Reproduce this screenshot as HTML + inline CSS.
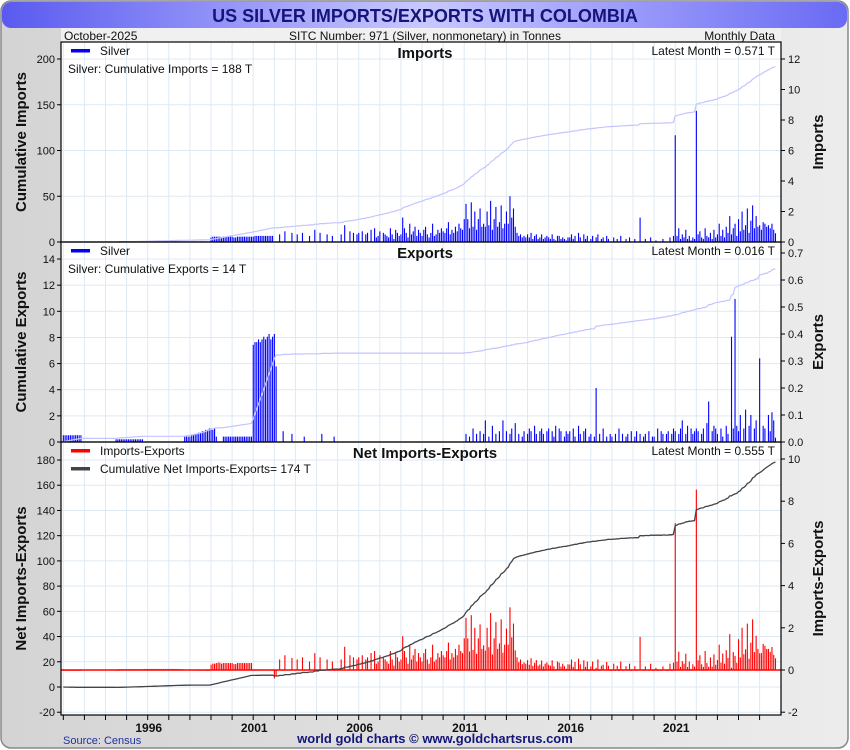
<!DOCTYPE html>
<html><head><meta charset="utf-8">
<style>
body{margin:0;background:#fff;font-family:"Liberation Sans",sans-serif}
svg{display:block}
text{font-family:"Liberation Sans",sans-serif}
</style></head>
<body>
<svg id="chart" width="850" height="750" viewBox="0 0 850 750">
<defs>
<linearGradient id="hdr" x1="0" x2="1" y1="0" y2="0"><stop offset="0" stop-color="#5a5af0"/><stop offset="0.5" stop-color="#c8c8ff"/><stop offset="1" stop-color="#6a6af4"/></linearGradient>
<linearGradient id="side" x1="0" x2="1"><stop offset="0" stop-color="#d4d4d4"/><stop offset="1" stop-color="#ececec"/></linearGradient>
</defs>
<rect x="1" y="1" width="847" height="747" rx="10" fill="url(#side)" stroke="#888" stroke-width="1.5"/>
<rect x="2" y="2" width="845" height="26" rx="9" fill="url(#hdr)"/>
<text x="425" y="22" text-anchor="middle" font-size="18" font-weight="bold" fill="#14147a">US SILVER IMPORTS/EXPORTS WITH COLOMBIA</text>
<rect x="61" y="28" width="720" height="14" fill="#f0f0f0"/>
<text x="64" y="40" font-size="12" fill="#111">October-2025</text>
<text x="425" y="40" font-size="12" text-anchor="middle" fill="#111">SITC Number: 971 (Silver, nonmonetary) in Tonnes</text>
<text x="775" y="40" font-size="12" text-anchor="end" fill="#111">Monthly Data</text>
<rect x="61" y="42" width="720" height="673" fill="#fff"/>
<g id="g"></g>
<text x="63" y="744" font-size="11" fill="#2030a0">Source: Census</text>
<text x="435" y="743" font-size="13" font-weight="bold" text-anchor="middle" fill="#14147a">world gold charts © www.goldchartsrus.com</text>
</svg>
<script>
const startYear = 1992;
const yearLabels = ["1996","2001","2006","2011","2016","2021"];
const importsByYear = [
[0,0,0,0,0,0,0,0,0,0,0,0],
[0,0,0,0,0,0,0,0,0,0,0,0],
[0,0,0,0,0,0,0,0,0.05,0.05,0.05,0.05],
[0.05,0.05,0.05,0.05,0.05,0.05,0.05,0.05,0.05,0.05,0.05,0.05],
[0.05,0.05,0.05,0.05,0.05,0.05,0.05,0.05,0.05,0.05,0.05,0.05],
[0.05,0.05,0.05,0.05,0.05,0.05,0.04,0.04,0.04,0.04,0.04,0.04],
[0.04,0.04,0.04,0.04,0.04,0.04,0.04,0.04,0.04,0.04,0.04,0.04],
[0.3,0.35,0.35,0.35,0.35,0.35,0.3,0.35,0.35,0.35,0.35,0.35],
[0.35,0.3,0.3,0.35,0.35,0.35,0.35,0.35,0.35,0.35,0.35,0.35],
[0.35,0.4,0.4,0.4,0.4,0.4,0.4,0.4,0.4,0.4,0.4,0.4],
[0,0,0,0.5,0,0,0.7,0,0,0,0.6,0],
[0,0.5,0,0,0.6,0,0,0,0.4,0,0,0.8],
[0,0,0.6,0,0,0,0.5,0,0,0.4,0,0],
[0,0,0.5,0,1.1,0,0,0.7,0,0.6,0,0.5],
[0.6,0,0.7,0,0.5,0.6,0,0.8,0,0.9,0.3,0.4],
[0.7,0,0.6,0.5,0.4,0.3,0.9,0.5,0.2,0.8,0.6,0.4],
[0.5,1.6,0.9,0.6,0.3,1.2,0.5,0.7,1.0,0.4,0.8,0.6],
[0.4,0.8,1.0,0.5,0.3,0.6,1.2,0.4,0.5,0.8,0.6,0.9],
[0.7,0.6,0.9,1.3,0.5,0.8,0.6,1.0,0.7,1.2,0.9,0.8],
[1.5,2.5,1.5,0.9,2.6,1.0,2.0,0.8,1.5,2.2,1.0,1.2],
[1.0,2.0,1.1,2.7,0.8,1.5,2.3,1.0,1.3,2.4,0.9,1.2],
[2.0,1.2,3.0,1.6,2.2,1.0,0.6,0.4,0.5,0.3,0.4,0.3],
[0.5,0.3,0.6,0.2,0.4,0.5,0.2,0.3,0.5,0.2,0.3,0.4],
[0.3,0.2,0.5,0.2,0.1,0.4,0.4,0.2,0.3,0.2,0.1,0.3],
[0.3,0.5,0.2,0.4,0,0.6,0.3,0,0.5,0.2,0.4,0],
[0.2,0.4,0,0.3,0.5,0,0.2,0.3,0,0.4,0.2,0],
[0,0.3,0,0.2,0,0.4,0,0,0.2,0,0.3,0],
[0,0.2,0,0,1.6,0,0,0.2,0,0,0.3,0],
[0,0.1,0,0,0,0.2,0,0,0,0.3,0,0.4],
[7.0,0.4,0.9,0.2,0.5,0.3,0.8,0.2,0.4,0.1,0.3,0.2],
[8.6,0.5,0.7,0.3,0.2,0.9,0.4,0.3,0.6,0.2,0.8,0.3],
[0.5,1.2,0.4,0.8,0.3,1.0,0.6,1.7,0.5,0.9,1.2,0.4],
[1.5,0.7,2.0,0.8,1.1,2.2,0.6,1.4,2.4,0.9,1.7,1.0],
[1.1,0.8,1.3,1.2,1.0,1.1,0.9,1.2,0.8,0.571]
];
const exportsByYear = [
[0.025,0.025,0.025,0.025,0.025,0.025,0.025,0.025,0.025,0.025,0.025,0],
[0,0,0,0,0,0,0,0,0,0,0,0],
[0,0,0,0,0,0,0.01,0.01,0.01,0.01,0.01,0.01],
[0.01,0.01,0.01,0.01,0.01,0.01,0.01,0.01,0.01,0.01,0,0],
[0,0,0,0,0,0,0,0,0,0,0,0],
[0,0,0,0,0,0,0,0,0,0.02,0.02,0.02],
[0.02,0.025,0.025,0.03,0.03,0.035,0.035,0.04,0.04,0.045,0.045,0.05],
[0.05,0.045,0.05,0.02,0,0,0,0.02,0.02,0.02,0.02,0.02],
[0.02,0.02,0.02,0.02,0.02,0.02,0.02,0.02,0.02,0.02,0.02,0.02],
[0.36,0.37,0.37,0.38,0.37,0.38,0.39,0.38,0.39,0.4,0.38,0.39],
[0.4,0.28,0,0,0,0.04,0,0,0,0,0.03,0],
[0,0,0,0,0,0.02,0,0,0,0,0,0],
[0,0,0,0.03,0,0,0,0,0,0,0.02,0],
[0,0,0,0,0,0,0,0,0,0,0,0],
[0,0,0,0,0,0,0,0,0,0,0,0],
[0,0,0,0,0,0,0,0,0,0,0,0],
[0,0,0,0,0,0,0,0,0,0,0,0],
[0,0,0,0,0,0,0,0,0,0,0,0],
[0,0,0,0,0,0,0,0,0,0,0,0],
[0,0.03,0,0.02,0,0.05,0,0.03,0,0.04,0,0.03],
[0.08,0,0.02,0,0.06,0,0.03,0,0.04,0,0.08,0],
[0.04,0,0.03,0.05,0,0.07,0,0.03,0,0.02,0.04,0],
[0.03,0.05,0.04,0,0.06,0.03,0,0.04,0.05,0.03,0,0.04],
[0.05,0,0.04,0.02,0.06,0,0.05,0.04,0,0.02,0.04,0.03],
[0.04,0,0.05,0.02,0,0.06,0.03,0,0.04,0.05,0,0.02],
[0.03,0,0.02,0.2,0,0.03,0,0.05,0,0.02,0,0.03],
[0.02,0,0.03,0,0.05,0,0.03,0,0.02,0.03,0,0.04],
[0,0.02,0.04,0,0.03,0,0.02,0.03,0,0.04,0,0.02],
[0.02,0,0.05,0,0.04,0.03,0,0.03,0.04,0,0.03,0.05],
[0.04,0,0.03,0.05,0.08,0,0.03,0.06,0,0.05,0.03,0.04],
[0.05,0.04,0,0.03,0.05,0,0.07,0.15,0,0.04,0.06,0.05],
[0.03,0,0.05,0.02,0,0.06,0.03,0,0.39,0.05,0.53,0.06],
[0.04,0.1,0,0.05,0.12,0,0.06,0.1,0,0.05,0.08,0],
[0.31,0,0.06,0.05,0,0.1,0.04,0.11,0.08,0.016]
];
const ticksP1Left=[0,50,100,150,200], ticksP1Right=[0,2,4,6,8,10,12];
const ticksP2Left=[0,2,4,6,8,10,12,14], ticksP2Right=[0,0.1,0.2,0.3,0.4,0.5,0.6,0.7];
const ticksP3Left=[-20,0,20,40,60,80,100,120,140,160,180], ticksP3Right=[-2,0,2,4,6,8,10];

const NS="http://www.w3.org/2000/svg";
const G=document.getElementById('g');
function mk(tag,attrs,parent,txt){const e=document.createElementNS(NS,tag);for(const k in attrs)e.setAttribute(k,attrs[k]);if(txt!==undefined)e.textContent=txt;(parent||G).appendChild(e);return e;}
const X0=61,X1=781;
function xOf(t){return 63.3+(t-startYear)*21.1;}
const imports=[],exportsArr=[];
importsByYear.forEach(a=>a.forEach(v=>imports.push(v)));
exportsByYear.forEach(a=>a.forEach(v=>exportsArr.push(v)));
const net=imports.map((v,i)=>v-(exportsArr[i]||0));
function cum(a){let s=0;return a.map(v=>s+=v);}
const panels=[
 {top:42,bot:242,l0:242,lk:0.915,r0:242,rk:15.25,lt:ticksP1Left,rt:ticksP1Right,lfmt:v=>v,rfmt:v=>v,vals:imports,col:"#0000ff",ccol:"#c4c4ff",lt2:"Cumulative Imports",rt2:"Imports",title:"Imports",leg:"Silver",cumtxt:"Silver: Cumulative Imports = 188 T",latest:"Latest Month = 0.571 T",name:"imports"},
 {top:242,bot:442,l0:442,lk:13.07,r0:442,rk:270,lt:ticksP2Left,rt:ticksP2Right,lfmt:v=>v,rfmt:v=>v.toFixed(1),vals:exportsArr,col:"#0000ff",ccol:"#c4c4ff",lt2:"Cumulative Exports",rt2:"Exports",title:"Exports",leg:"Silver",cumtxt:"Silver: Cumulative Exports = 14 T",latest:"Latest Month = 0.016 T",name:"exports"},
 {top:442,bot:715,l0:687,lk:1.261,r0:670,rk:21.1,lt:ticksP3Left,rt:ticksP3Right,lfmt:v=>v,rfmt:v=>v,vals:net,col:"#ff0000",ccol:"#444444",lt2:"Net Imports-Exports",rt2:"Imports-Exports",title:"Net Imports-Exports",leg:"Imports-Exports",cumtxt:null,latest:"Latest Month = 0.555 T",name:"net"}
];
panels.forEach(p=>{
 const g=mk('g',{});
 
 
 const yl=v=>p.l0-v*p.lk, yr=v=>p.r0-v*p.rk;
 for(let yr0=startYear;yr0<=2025;yr0++){const x=xOf(yr0);const gl=mk('line',{x1:x,x2:x,y1:p.top,y2:p.bot,stroke:"#dde9f4","stroke-width":1},g);}
 p.lt.forEach(v=>{const y=yl(v);const gl=mk('line',{x1:X0,x2:X1,y1:y,y2:y,stroke:"#dde9f4"},g);
  const tk=mk('line',{x1:X0-4,x2:X0,y1:y,y2:y,stroke:"#000"},g);
  const tl=mk('text',{x:X0-6,y:y+4,"font-size":11,"text-anchor":"end",fill:"#111"},g,p.lfmt(v));});
 p.rt.forEach(v=>{const y=yr(v);const tk=mk('line',{x1:X1,x2:X1+4,y1:y,y2:y,stroke:"#000"},g);
  const tl=mk('text',{x:X1+7,y:y+4,"font-size":11,fill:"#111"},g,p.rfmt(v));});
 p.vals.forEach((v,i)=>{if(v===0)return;const x=xOf(startYear+i/12);const y=yr(v);
  const b=mk('rect',{x:x-0.5,y:Math.min(y,p.r0),width:1.1,height:Math.max(Math.abs(p.r0-y),0.8),fill:p.col},g);
  });
 if(p.name==='net'){const zl=mk('line',{x1:X0,x2:X1,y1:p.r0,y2:p.r0,stroke:"#ff0000","stroke-width":1.5},g);}
 const c=cum(p.vals);const pts=c.map((v,i)=>xOf(startYear+i/12).toFixed(1)+","+yl(v).toFixed(1)).join(" ");
 const pl=mk('polyline',{points:pts,fill:"none",stroke:p.ccol,"stroke-width":p.name==='net'?1.3:1.2},g);
 
 const br=mk('rect',{x:X0,y:p.top,width:X1-X0,height:p.bot-p.top,fill:"none",stroke:"#000","stroke-width":1.2},g);
 
 const mid=(p.top+p.bot)/2;
 const lt=mk('text',{x:0,y:0,transform:`translate(26,${mid}) rotate(-90)`,"font-size":15,"font-weight":"bold","text-anchor":"middle",fill:"#111"},g,p.lt2);
 const rt=mk('text',{x:0,y:0,transform:`translate(823,${mid}) rotate(-90)`,"font-size":15,"font-weight":"bold","text-anchor":"middle",fill:"#111"},g,p.rt2);
 const pt=mk('text',{x:425,y:p.top+16,"font-size":15,"font-weight":"bold","text-anchor":"middle",fill:"#111"},g,p.title);
 const lm=mk('text',{x:775,y:p.top+13,"font-size":12,"text-anchor":"end",fill:"#111"},g,p.latest);
 const ls=mk('rect',{x:71,y:p.top+7,width:19,height:3.5,fill:p.col},g);
 const lg=mk('text',{x:100,y:p.top+13,"font-size":12,fill:"#111"},g,p.leg);
 if(p.cumtxt){const ct=mk('text',{x:68,y:p.top+31,"font-size":12,fill:"#111"},g,p.cumtxt);}
 else{const s2=mk('rect',{x:71,y:p.top+25,width:19,height:3.5,fill:"#444"},g);
  const t2=mk('text',{x:100,y:p.top+31,"font-size":12,fill:"#111"},g,"Cumulative Net Imports-Exports= 174 T");}
});
for(let y0=startYear;y0<=2025;y0++){const x=xOf(y0);const tk=mk('line',{x1:x,x2:x,y1:715,y2:720,stroke:"#000"});}
yearLabels.forEach(l=>{const x=xOf(+l);const t=mk('text',{x:x+1,y:732,"font-size":12,"font-weight":"bold","text-anchor":"middle",fill:"#111"},G,l);});
</script>
</body></html>
